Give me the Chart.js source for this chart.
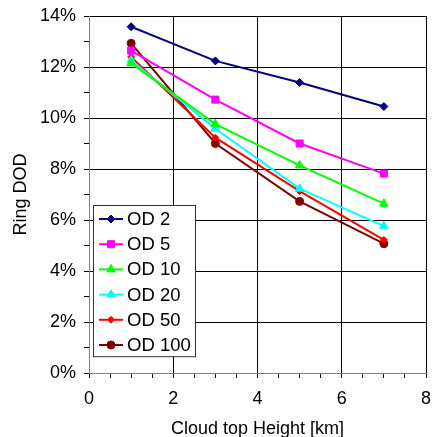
<!DOCTYPE html>
<html>
<head>
<meta charset="utf-8">
<script src="https://cdn.jsdelivr.net/npm/chart.js@4.4.1/dist/chart.umd.min.js"></script>
<style>
html, body { margin: 0; padding: 0; background: #fff; }
#wrap { width: 432px; height: 437px; }
</style>
</head>
<body>
<div id="wrap"><canvas id="chart"></canvas></div>
<script>
// cloud top height in km
const heights = [1, 3, 5, 7];

// ring DOD in percent, per optical depth
const od2 = [13.58, 12.24, 11.39, 10.45];
const od5 = [12.64, 10.72, 9.0, 7.82];
const od10 = [12.15, 9.76, 8.14, 6.64];
const od20 = [12.26, 9.58, 7.23, 5.76];
const od50 = [12.39, 9.23, 7.13, 5.22];
const od100 = [12.93, 9.0, 6.73, 5.07];

const seriesNames = ['OD 2', 'OD 5', 'OD 10', 'OD 20', 'OD 50', 'OD 100'];
const seriesColors = ['#000080', '#ff00ff', '#00ff00', '#00ffff', '#ff0000', '#800000'];
const seriesMarkers = ['rectRot', 'rect', 'triangle', 'triangle', 'rectRot', 'circle'];
const markerSizes = [4, 5, 5, 5, 3.5, 4];

const xTicks = [0, 2, 4, 6, 8];
const yTicks = [0, 2, 4, 6, 8, 10, 12, 14];

const FONT = { family: 'Liberation Sans, Arial, sans-serif', size: 18 };

const allValues = [od2, od5, od10, od20, od50, od100];

const datasets = allValues.map((vals, i) => ({
    label: seriesNames[i],
    data: vals.map((v, j) => ({ x: heights[j], y: v })),
    borderColor: seriesColors[i],
    backgroundColor: seriesColors[i],
    borderWidth: 2,
    pointStyle: seriesMarkers[i],
    pointRadius: markerSizes[i],
    pointHoverRadius: markerSizes[i],
    pointBorderWidth: 1,
    tension: 0
}));

// legend box drawn inside the plot area, lower left
const boxLegend = {
    id: 'boxLegend',
    afterDatasetsDraw(chart) {
        const ctx = chart.ctx;
        const area = chart.chartArea;
        const left = area.left + 4;
        const top = area.top + 189;
        const w = 102, rowH = 25.2;
        const h = rowH * seriesNames.length;
        ctx.save();
        ctx.fillStyle = '#fff';
        ctx.strokeStyle = '#333';
        ctx.lineWidth = 1;
        ctx.fillRect(left, top, w, h);
        ctx.strokeRect(left + 0.5, top + 0.5, w, h);
        ctx.font = '18.5px ' + FONT.family;
        ctx.textBaseline = 'middle';
        chart.data.datasets.forEach((ds, i) => {
            const y = top + 14 + i * rowH;
            ctx.strokeStyle = ds.borderColor;
            ctx.lineWidth = 2;
            ctx.beginPath();
            ctx.moveTo(left + 6, y);
            ctx.lineTo(left + 30, y);
            ctx.stroke();
            ctx.fillStyle = ds.backgroundColor;
            ctx.lineWidth = 1;
            Chart.helpers.drawPoint(ctx, { pointStyle: ds.pointStyle, radius: ds.pointRadius, rotation: 0, borderWidth: 1 }, left + 18, y);
            ctx.fillStyle = '#000';
            ctx.fillText(ds.label, left + 34, y + 1);
        });
        ctx.restore();
    }
};

new Chart(document.getElementById('chart'), {
    type: 'line',
    data: { datasets: datasets },
    options: {
        responsive: true,
        maintainAspectRatio: false,
        animation: false,
        layout: { padding: { top: 16, right: 5, left: 0, bottom: 0 } },
        plugins: {
            legend: { display: false },
            tooltip: { enabled: false }
        },
        scales: {
            x: {
                type: 'linear',
                min: 0,
                max: 8,
                afterFit: s => { s.height = 64; s.paddingLeft = 0; s.paddingRight = 0; },
                ticks: {
                    stepSize: 0.5,
                    autoSkip: false,
                    maxRotation: 0,
                    padding: 10,
                    color: '#000',
                    font: FONT,
                    callback: v => xTicks.includes(v) ? String(v) : ''
                },
                grid: {
                    color: c => c.tick && xTicks.includes(c.tick.value) ? '#000' : 'rgba(0,0,0,0)',
                    tickColor: '#000',
                    tickLength: 5,
                    lineWidth: 1
                },
                border: { color: '#808080', width: 1 },
                title: {
                    display: true,
                    text: 'Cloud top Height [km]',
                    color: '#000',
                    font: FONT,
                    padding: { top: 2, bottom: -3 }
                }
            },
            y: {
                min: 0,
                max: 14,
                afterFit: s => { s.width = 89; s.paddingTop = 0; s.paddingBottom = 0; },
                ticks: {
                    stepSize: 1,
                    autoSkip: false,
                    padding: 8,
                    color: '#000',
                    font: FONT,
                    callback: v => yTicks.includes(v) ? v + '%' : ''
                },
                grid: {
                    color: c => c.tick && yTicks.includes(c.tick.value) ? '#000' : 'rgba(0,0,0,0)',
                    tickColor: '#000',
                    tickLength: 5,
                    lineWidth: 1
                },
                border: { color: '#808080', width: 1 },
                title: {
                    display: true,
                    text: 'Ring DOD',
                    color: '#000',
                    font: FONT,
                    padding: { top: 10, bottom: 0 }
                }
            }
        }
    },
    plugins: [boxLegend]
});
</script>
</body>
</html>
